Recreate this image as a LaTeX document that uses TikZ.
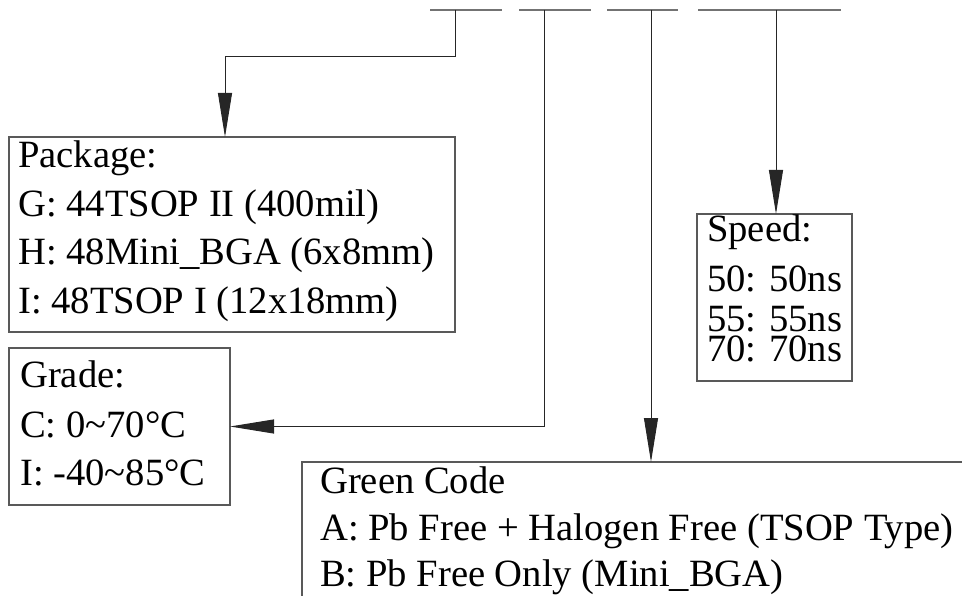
\documentclass[tikz,border=0pt]{standalone}
\usepackage{fontspec}
\setmainfont{Liberation Serif}
\usetikzlibrary{arrows.meta,positioning}

\begin{document}
\begin{tikzpicture}[
      x=1pt, y=-1pt,
      box/.style={draw=black!65, line width=1.1pt, inner sep=0pt, outer sep=0pt},
      bar/.style={draw=black!55, line width=1.2pt},
      txt/.style={inner sep=0pt, anchor=base west, font=\fontsize{38.6}{40}\selectfont},
      arrow/.style={-{Triangle[length=44pt,width=14pt]}, line width=1pt, black!85}
    ]
    \useasboundingbox (0,0) rectangle (962,596);
    \clip (0,0) rectangle (962,596);

    % part number fields
    \foreach \a/\b in {430/502, 519/591, 607/678, 698/841}
      \draw[bar] (\a,10) -- (\b,10);
    \coordinate (fPkg)   at (455,10);
    \coordinate (fGrade) at (544,10);
    \coordinate (fGreen) at (651,10);
    \coordinate (fSpeed) at (776,10);
    \coordinate (kneePkg) at (455,57);

    % boxes
    \node[box, minimum width=446pt, minimum height=195pt] (pkg)   at (232,234.5) {};
    \node[box, minimum width=221pt, minimum height=157pt] (grade) at (119.5,426.5) {};
    \node[box, minimum width=155pt, minimum height=167pt] (speed) at (774.5,297.5) {};
    \node[box, anchor=north west, minimum width=720pt, minimum height=200pt] (green) at (302,462) {};

    % box texts
    \foreach \t/\yy [count=\i] in {{Package:}/168, {G: 44TSOP II (400mil)}/216.5,
        {H: 48Mini\_BGA (6x8mm)}/265, {I: 48TSOP I (12x18mm)}/313.5}
      \node[txt] (pkgL\i) at (18,\yy) {\t};
    \foreach \t/\yy [count=\i] in {{Grade:}/388, {C: 0\textasciitilde70°C}/437,
        {I: -40\textasciitilde85°C}/485}
      \node[txt] (gradeL\i) at (20,\yy) {\t};
    \foreach \t/\yy [count=\i] in {{Speed:}/242, {50: 50ns}/292,
        {55: 55ns}/332, {70: 70ns}/362}
      \node[txt] (speedL\i) at (707,\yy) {\t};
    \foreach \t/\yy [count=\i] in {{Green Code}/493,
        {A: Pb Free + Halogen Free (TSOP Type)}/540, {B: Pb Free Only (Mini\_BGA)}/586}
      \node[txt] (greenL\i) at (320,\yy) {\t};

    % connectors
    \draw[arrow] (fPkg) -- (kneePkg) -| ([xshift=-7pt]pkg.north);
    \draw[arrow] (fGrade) |- (grade.east);
    \draw[arrow] (fGreen) -- (fGreen |- green.north);
    \draw[arrow] (fSpeed) -- (fSpeed |- speed.north);
  \end{tikzpicture}
\end{document}
